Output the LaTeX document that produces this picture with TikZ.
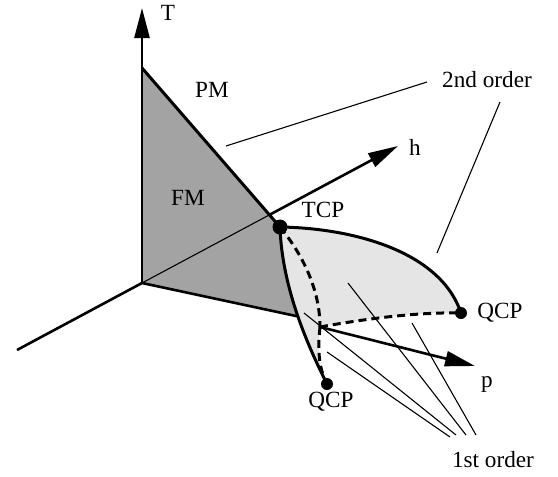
\documentclass[tikz,border=0pt]{standalone}
\usepackage{fontspec}
\setmainfont{Liberation Serif}
\usetikzlibrary{arrows.meta}
\definecolor{fmgray}{gray}{0.64}
\definecolor{planegray}{gray}{0.9}
\tikzset{
  axis/.style={line width=1.3pt},
  axisarrow/.style={line width=1.3pt,-{Triangle[length=15pt,width=7.5pt]}},
  phaseline/.style={line width=1.5pt},
  firstline/.style={line width=1.5pt,dash pattern=on 4pt off 2.5pt},
  leader/.style={line width=0.55pt},
  lbl/.style={inner sep=0pt,font=\fontsize{11.6}{14}\selectfont},
  bigdot/.style={circle,fill,inner sep=0pt,minimum size=7.5pt},
  smalldot/.style={circle,fill,inner sep=0pt,minimum size=6pt},
}
\begin{document}
\begin{tikzpicture}[x=0.5pt,y=-0.5pt]
		\useasboundingbox (0,0) rectangle (558,477);
		% axes and corners
		\coordinate (O) at (142,283);
		\coordinate (Ttip) at (142,8);
		\coordinate (Ltip) at (17,350);
		\coordinate (htip) at (398,146);
		\coordinate (ptip) at (475,366);
		\coordinate (PMa) at (142,68);
		\coordinate (TCP) at (280,227);
		\coordinate (FMc) at (297.9,316.4);
		\coordinate (J) at (320,327);
		\coordinate (QCPr) at (461,313);
		\coordinate (QCPl) at (327,384);
		\coordinate (hcut) at (intersection of O--htip and PMa--TCP);
		\begin{scope}
			\fill[fmgray] (O) -- (PMa) -- (TCP) .. controls (281,258.5) and (288.5,289.25) .. (FMc) -- cycle;
			\fill[planegray] (TCP) .. controls (350,228) and (440,250) .. (QCPr)
				.. controls (420,312) and (370,318) .. (J)
				.. controls (317,355) and (320,370) .. (QCPl)
				.. controls (310,350) and (282,290) .. (TCP) -- cycle;
		\end{scope}
		\draw[axis] (O) -- (Ltip);
		\draw[axis] (O) -- (FMc);
		\draw[axisarrow] (O) -- (Ttip);
		\draw[leader] (O) -- (hcut);
		\draw[axisarrow] (hcut) -- (htip);
		\draw[phaseline] (PMa) -- (TCP);
		\draw[phaseline] (TCP) .. controls (282,290) and (310,350) .. (QCPl);
		\draw[phaseline] (TCP) .. controls (350,228) and (440,250) .. (QCPr);
		\draw[firstline] (TCP) .. controls (303,255) and (320,290) .. (J);
		\draw[firstline] (J) .. controls (370,318) and (420,312) .. (QCPr);
		\draw[firstline] (J) .. controls (317,355) and (320,370) .. (QCPl);
		\draw[axisarrow] (J) -- (ptip);
		\node[bigdot] (tcpdot) at (TCP) {};
		\node[smalldot] (qcprdot) at (QCPr) {};
		\node[smalldot] (qcpldot) at (QCPl) {};
		% labels
		\node[lbl] (Tlab) at (168,13) {T};
		\node[lbl] (PMlab) at (212,90) {PM};
		\node[lbl] (FMlab) at (188,198) {FM};
		\node[lbl] (hlab) at (415,147) {h};
		\node[lbl] (TCPlab) at (323,210) {TCP};
		\node[lbl] (QCPrlab) at (500,313) {QCP};
		\node[lbl] (QCPllab) at (331,402) {QCP};
		\node[lbl] (plab) at (487,384) {p};
		\node[lbl] (secondlab) at (487,80) {2nd order};
		\node[lbl] (firstlab) at (493,460) {1st order};
		% leaders
		\coordinate (sa) at (226,146);
		\coordinate (sae) at (427,82);
		\coordinate (sb) at (437,253);
		\coordinate (sbe) at (500,102);
		\draw[leader] (sa) -- (sae);
		\draw[leader] (sb) -- (sbe);
		\foreach \a/\b in {{327,352}/{450,437},{304,313}/{456,435},{348,283}/{466,435},{412,323}/{476,435}}
			\draw[leader] (\a) -- (\b);
	\end{tikzpicture}
\end{document}
